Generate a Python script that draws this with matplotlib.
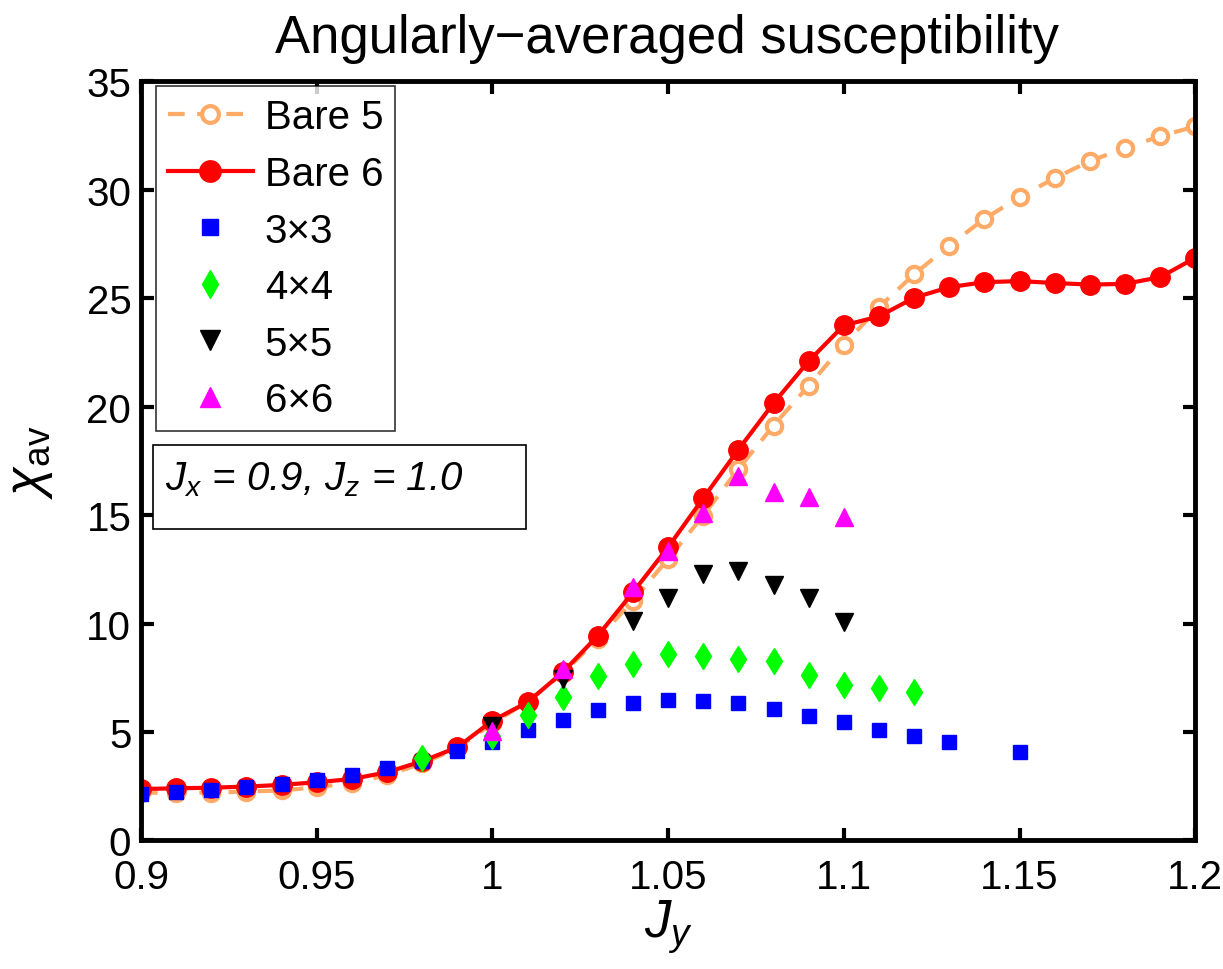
import matplotlib.pyplot as plt
from matplotlib.patches import Rectangle
import numpy as np

plt.rcParams['font.family'] = ['Liberation Sans', 'DejaVu Sans']
plt.rcParams['mathtext.fontset'] = 'custom'
plt.rcParams['mathtext.rm'] = 'Liberation Sans'
plt.rcParams['mathtext.it'] = 'Liberation Sans:italic'

# Bare 5 / Bare 6 series (Jy = 0.90 .. 1.20 in steps of 0.01)
jy_bare = np.round(np.arange(0.90, 1.2001, 0.01), 2)
bare5 = [2.2, 2.2, 2.2, 2.25, 2.3, 2.45, 2.65, 3.0, 3.55, 4.25, 5.4, 6.4, 7.7, 9.3, 11.06,
         12.98, 14.98, 17.13, 19.13, 20.97, 22.85, 24.59, 26.1, 27.43, 28.66, 29.66,
         30.54, 31.32, 31.92, 32.47, 32.92]
bare6 = [2.37, 2.4, 2.43, 2.48, 2.56, 2.68, 2.83, 3.14, 3.65, 4.29, 5.52, 6.37, 7.75, 9.44,
         11.44, 13.52, 15.78, 18.02, 20.16, 22.1, 23.75, 24.16, 25.02, 25.51, 25.74,
         25.79, 25.7, 25.63, 25.66, 25.97, 26.86]

jy_3x3 = [0.90, 0.91, 0.92, 0.93, 0.94, 0.95, 0.96, 0.97, 0.98, 0.99, 1.00, 1.01, 1.02,
          1.03, 1.04, 1.05, 1.06, 1.07, 1.08, 1.09, 1.10, 1.11, 1.12, 1.13, 1.15]
chi_3x3 = [2.14, 2.22, 2.34, 2.45, 2.6, 2.8, 3.02, 3.32, 3.68, 4.14, 4.55, 5.11, 5.57,
           6.01, 6.34, 6.48, 6.42, 6.32, 6.06, 5.75, 5.45, 5.11, 4.8, 4.52, 4.06]

jy_4x4 = [0.98, 1.00, 1.01, 1.02, 1.03, 1.04, 1.05, 1.06, 1.07, 1.08, 1.09, 1.10, 1.11, 1.12]
chi_4x4 = [3.79, 4.83, 5.78, 6.6, 7.57, 8.14, 8.6, 8.52, 8.37, 8.26, 7.63, 7.17, 7.03, 6.86]

jy_5x5 = [1.00, 1.02, 1.04, 1.05, 1.06, 1.07, 1.08, 1.09, 1.10]
chi_5x5 = [5.29, 7.45, 10.1, 11.17, 12.29, 12.4, 11.78, 11.17, 10.06]

jy_6x6 = [1.00, 1.02, 1.04, 1.05, 1.06, 1.07, 1.08, 1.09, 1.10]
chi_6x6 = [5.06, 7.9, 11.67, 13.36, 15.09, 16.82, 16.08, 15.83, 14.9]

fig = plt.figure(figsize=(12.23, 9.70), dpi=100)
ax = fig.add_axes([0.1153, 0.1326, 0.862, 0.7825])

orange = '#ffaa66'
ax.plot(jy_bare, bare5, '--o', color=orange, lw=3, ms=11, mfc='white', mec=orange,
        mew=3, dashes=(4, 3), label='Bare 5')
ax.plot(jy_bare, bare6, '-o', color='red', lw=3, ms=14, label='Bare 6')
ax.plot(jy_3x3, chi_3x3, 's', color='#0000ff', ms=10, ls='none', label='3\u00d73')
ax.plot(jy_4x4, chi_4x4, 'd', color='#00ff00', ms=13, ls='none', label='4\u00d74')
ax.plot(jy_5x5, chi_5x5, 'v', color='black', ms=13, ls='none', label='5\u00d75')
ax.plot(jy_6x6, chi_6x6, '^', color='#ff00ff', ms=13, ls='none', label='6\u00d76')

ax.set_xlim(0.9, 1.2)
ax.set_ylim(0, 35)
ax.set_xticks([0.9, 0.95, 1.0, 1.05, 1.1, 1.15, 1.2])
ax.set_xticklabels(['0.9', '0.95', '1', '1.05', '1.1', '1.15', '1.2'])
ax.set_yticks(range(0, 36, 5))
ax.tick_params(direction='in', length=9, width=3, labelsize=29, top=True, right=True)
ax.tick_params(axis='x', pad=13)
ax.tick_params(axis='y', pad=7)
for s in ax.spines.values():
    s.set_linewidth(3.5)

fig.text(0.5455, 0.945, 'Angularly\u2212averaged susceptibility', fontsize=38,
         ha='center', va='baseline')
ax.set_xlabel('$J_y$', fontsize=38)
ax.xaxis.set_label_coords(0.5, -0.075)
ax.set_ylabel('$\\chi_{\\mathrm{av}}$', fontsize=38)
ax.yaxis.set_label_coords(-0.082, 0.5)

leg = ax.legend(loc='upper left', bbox_to_anchor=(0.0142, 0.9934), borderaxespad=0,
                fontsize=29, frameon=True, fancybox=False, edgecolor='black',
                handlelength=2.1, handletextpad=0.3, labelspacing=0.46, borderpad=0.3,
                markerscale=1.1)
leg.get_frame().set_linewidth(1.2)

ax.add_patch(Rectangle((0.0114, 0.4104), 0.3539, 0.1107, transform=ax.transAxes,
                       fc='white', ec='black', lw=1.2, zorder=5))
ax.text(0.0228, 0.463, '$J_x$ = 0.9, $J_z$ = 1.0', transform=ax.transAxes, fontsize=29,
        style='italic', va='baseline', ha='left', zorder=6)

fig.savefig('out.png', dpi=100)
